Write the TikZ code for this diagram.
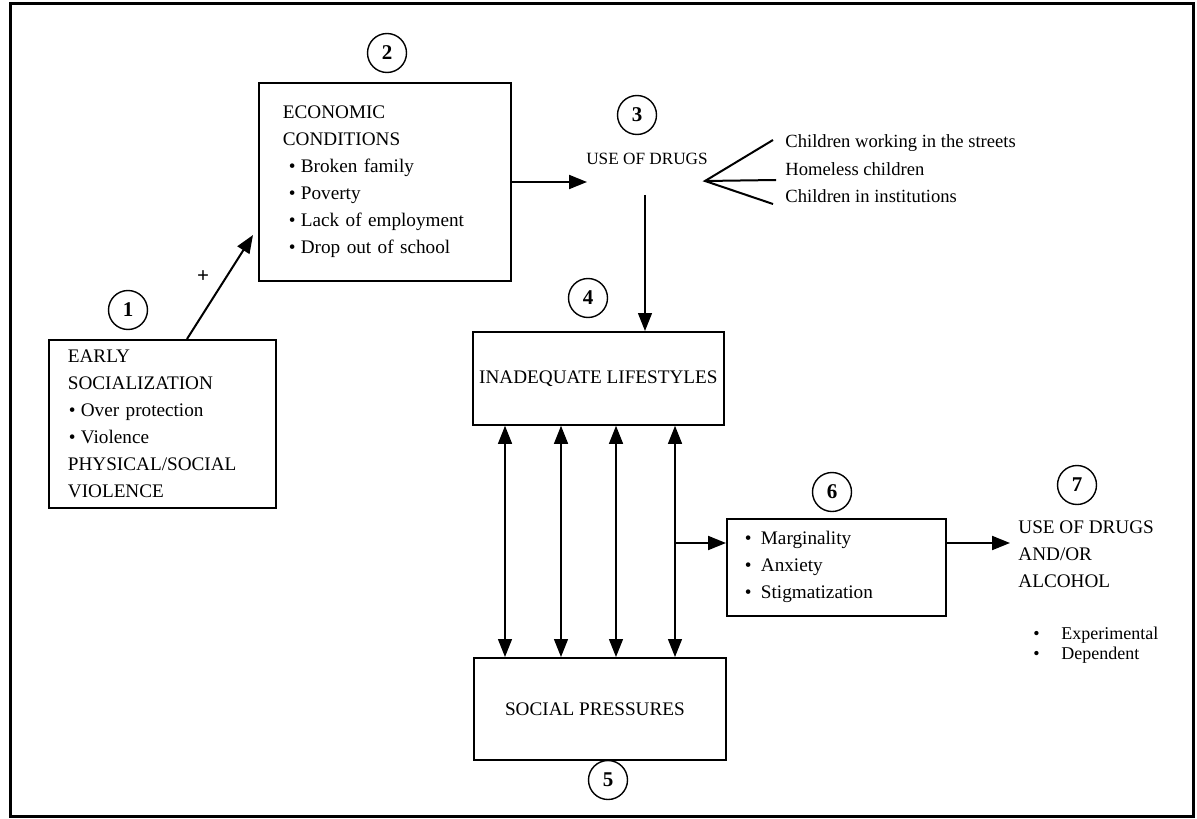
\documentclass[tikz,border=0pt]{standalone}
\usepackage{fontspec}
\setmainfont{Liberation Serif}
\usetikzlibrary{arrows.meta,calc}
\newcommand\bul[2]{\hspace*{#1}\makebox[#2][l]{\textbullet}}
\tikzset{
  box/.style={draw, line width=0.9pt, inner sep=0pt, font=\fontsize{9.6}{13.5}\selectfont},
  listbox/.style={box, align=left, anchor=north west},
  num/.style={circle, draw, line width=0.7pt, minimum size=19.5pt, inner sep=0pt, font=\fontsize{10.5}{12}\selectfont\bfseries},
  lbl/.style={inner sep=0pt, font=\fontsize{9.6}{13.5}\selectfont},
  tip/.tip={Triangle[length=9pt,width=7pt]},
  arr/.style={-tip, line width=0.6pt},
  thickarr/.style={-tip, line width=1pt},
  darr/.style={tip-tip, line width=0.6pt},
  branch/.style={line width=1pt},
}
\begin{document}
\begin{tikzpicture}[x=0.5pt,y=-0.5pt]
\useasboundingbox (0,0) rectangle (1197,818);
\draw[line width=1.5pt] (10,4) rectangle (1193,816);

% boxes
\node[listbox, inner xsep=9.5pt, text width=94.5pt, minimum height=84pt] (b1) at (48,339)
  {EARLY\\SOCIALIZATION\\\bul{0.5pt}{6pt}Over protection\\\bul{0.5pt}{6pt}Violence\\PHYSICAL/SOCIAL\\VIOLENCE};
\node[listbox, inner xsep=12pt, text width=102pt, minimum height=99pt] (b2) at (258,82)
  {ECONOMIC\\CONDITIONS\\\bul{3pt}{6pt}Broken family\\\bul{3pt}{6pt}Poverty\\\bul{3pt}{6pt}Lack of employment\\\bul{3pt}{6pt}Drop out of school};
\node[box, anchor=north west, minimum width=125.5pt, minimum height=46.5pt] (b4) at (472,331) {INADEQUATE LIFESTYLES};
\node[box, anchor=north west, minimum width=126pt, minimum height=51pt] (b5) at (473,657) {\hspace*{-5pt}SOCIAL PRESSURES};
\node[listbox, inner xsep=9pt, text width=91.5pt, minimum height=48.5pt] (b6) at (726,518)
  {\bul{0pt}{8pt}Marginality\\\bul{0pt}{8pt}Anxiety\\\bul{0pt}{8pt}Stigmatization};

% numbers
\node[num] (c1) at (128,310) {1};
\node[num] (c2) at (387,53) {2};
\node[num] (c3) at (637,115) {3};
\node[num] (c4) at (588,298) {4};
\node[num] (c5) at (608,780) {5};
\node[num] (c6) at (832,492) {6};
\node[num] (c7) at (1077,485) {7};

% free texts
\node[lbl, font=\fontsize{8.6}{10}\selectfont] (u3) at (647,159) {USE OF DRUGS};
\node[lbl, anchor=base west, font=\fontsize{9.3}{12}\selectfont] (ch1) at (785,148) {Children working in the streets};
\node[lbl, anchor=base west, font=\fontsize{9.3}{12}\selectfont] (ch2) at (785,176) {Homeless children};
\node[lbl, anchor=base west, font=\fontsize{9.3}{12}\selectfont] (ch3) at (785,203) {Children in institutions};
\node[lbl, anchor=north west, align=left] (u7) at (1018,520) {USE OF DRUGS\\AND/OR\\ALCOHOL};
\node[lbl, anchor=north west, align=left, font=\fontsize{9}{10}\selectfont] (u7b) at (1033,627)
  {\makebox[14pt][l]{\textbullet}Experimental\\\makebox[14pt][l]{\textbullet}Dependent};
\node[lbl, font=\fontsize{10.5}{12}\selectfont\bfseries] (plus) at (203,277) {+};

% coordinates
\coordinate (a1s) at (187,339);
\coordinate (a1e) at (253,235);
\coordinate (u3in) at (587,182);
\coordinate (apex) at (705,181);
\coordinate (e1) at (773,140);
\coordinate (e2) at (776,180);
\coordinate (e3) at (773,204);
\coordinate (d3) at (645,195);
\coordinate (j6) at (676,543);
\coordinate (u7in) at (1010,543);

% connectors
\draw[thickarr] (a1s) -- (a1e);
\draw[thickarr] (b2.east |- u3in) -- (u3in);
\draw[branch] (e1) -- (apex) -- (e3);
\draw[branch] (apex) -- (e2);
\draw[arr] (d3) -- (d3 |- b4.north);
\foreach \x in {505,561,616,675}
  \draw[darr] (\x,0 |- b4.south) -- (\x,0 |- b5.north);
\draw[thickarr] (j6) -- (j6 -| b6.west);
\draw[thickarr] (j6 -| b6.east) -- (u7in);
\end{tikzpicture}
\end{document}
